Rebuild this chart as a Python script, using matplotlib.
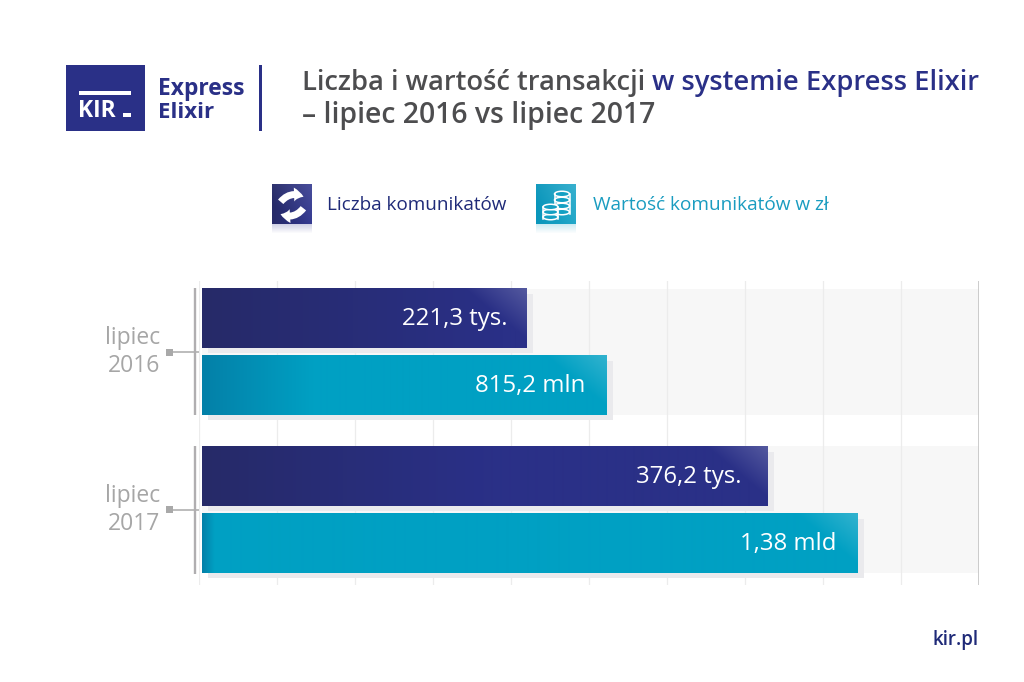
import numpy as np
import matplotlib
matplotlib.use('Agg')
import matplotlib.pyplot as plt
from matplotlib.colors import to_rgb
from matplotlib.patches import Rectangle, Ellipse, FancyArrowPatch

# chart values, read in grid divisions (the picture has no numeric axis)
years = ['lipiec\n2016', 'lipiec\n2017']
count_lengths = [4.205, 7.295]
value_lengths = [5.23, 8.45]
count_labels = ['221,3 tys.', '376,2 tys.']
value_labels = ['815,2 mln', '1,38 mld']
grid_ticks = [0, 1, 2, 3, 4, 5, 6, 7, 8, 9, 10]

NAVY = '#2a3087'
NAVY_DARK = '#262a68'
TEAL = '#00a0c3'
TEAL_DARK = '#0480a8'
GREY_TEXT = '#a6a6a6'
TITLE_GREY = '#4d4d4f'

plt.rcParams['font.family'] = ['Open Sans', 'DejaVu Sans']

fig = plt.figure(figsize=(10.24, 6.82), dpi=100)


def box(x0, y0, x1, y1):
    # figure fraction rectangle from pixel corners (y from the top)
    return [x0 / 1024, 1 - y1 / 682, (x1 - x0) / 1024, (y1 - y0) / 682]


ax = fig.add_axes(box(199, 281, 979, 585))
ax.set_xlim(0, 10)
ax.set_ylim(1.479, -0.451)
ax.set_facecolor('none')
for s in ax.spines.values():
    s.set_visible(False)

bar_h = 0.375
off = 0.213
base = 0.04
y = np.arange(len(years))


def gradient(left, right, w, h, fade, corner=0.2):
    # w, h in pixels, fade = how far the dark left part reaches
    xx, yy = np.meshgrid(np.arange(w), np.arange(h))
    t = np.clip(xx / fade, 0, 1)[..., None]
    img = np.array(to_rgb(left)) * (1 - t) + np.array(to_rgb(right)) * t
    d = (w - xx) + yy * 1.2
    a = np.clip(1 - d / 62, 0, 1)[..., None] * corner
    return img * (1 - a) + a


# grey bands behind each group
ax.barh(y, [10 - base] * 2, left=base, height=0.805, color='#f7f7f7', zorder=1)
ax.set_xticks(grid_ticks)
ax.set_xticklabels([])
ax.tick_params(axis='x', length=0)
ax.grid(axis='x', color='#ececec', lw=0.9, zorder=2)
ax.set_axisbelow(False)
ax.get_xgridlines()[-1].set_color('#c8c8c8')
ax.get_xgridlines()[-1].set_linewidth(1.3)

for vals, ypos, left_c, right_c, fades in [
    (count_lengths, y - off, NAVY_DARK, NAVY, [300, 280]),
    (value_lengths, y + off, TEAL_DARK, TEAL, [110, 12]),
]:
    widths = [v - base for v in vals]
    # soft shadow, offset right and down
    ax.barh(ypos + 0.032, widths, left=base + 0.075, height=bar_h, color='#eaeaed', zorder=3)
    bars = ax.barh(ypos, widths, left=base, height=bar_h, color=right_c, zorder=4)
    for b, fade in zip(bars, fades):
        x0, x1 = b.get_x(), b.get_x() + b.get_width()
        y0, y1 = b.get_y(), b.get_y() + b.get_height()
        img = gradient(left_c, right_c, int((x1 - x0) * 78), 60, fade)
        ax.imshow(img, extent=(x0, x1, y1, y0), aspect='auto', zorder=5, interpolation='bilinear')

label_pad = [-19, -27, -22, -22]
all_labels = count_labels + value_labels
all_x = count_lengths + value_lengths
all_y = list(y - off) + list(y + off)
for txt, vx, vy, pad in zip(all_labels, all_x, all_y, label_pad):
    ax.annotate(txt, (vx, vy), xytext=(pad * 0.72, -0.5), textcoords='offset points', ha='right',
                va='center', color='white', fontsize=17.3, zorder=6)

ax.set_xlim(0, 10)
ax.set_ylim(1.479, -0.451)
ax.set_yticks(y)
ax.set_yticklabels(years, color=GREY_TEXT, fontsize=16.5, linespacing=1.22, ha='right', va='center')
ax.tick_params(axis='y', length=19, width=1.1, color='#a9a9a9', pad=9)

# everything around the chart, in pixel coordinates
over = fig.add_axes([0, 0, 1, 1], zorder=10)
over.set_xlim(0, 1024)
over.set_ylim(682, 0)
over.axis('off')

# group brackets and tick squares
for y0, y1, ym in [(288, 415, 352), (446, 574, 509.5)]:
    over.plot([195, 195], [y0, y1], color='#b0aeb0', lw=1.7, solid_capstyle='butt')
    over.add_patch(Rectangle((165.5, ym - 3.5), 7, 7, color='#a9a9a9', lw=0))

# logo
over.add_patch(Rectangle((66, 65), 79, 66, color=NAVY, lw=0))
over.add_patch(Rectangle((79, 91), 52, 4, color='white', lw=0))
over.add_patch(Rectangle((123, 113), 8, 4, color='white', lw=0))
over.text(78, 117, 'KIR', color='white', fontsize=16.5, fontweight='bold', va='baseline')
over.text(158, 95, 'Express', color=NAVY, fontsize=16.5, fontweight='bold', va='baseline')
over.text(158, 118, 'Elixir', color=NAVY, fontsize=16, fontweight='bold', va='baseline')
over.add_patch(Rectangle((259, 65), 3, 66, color=NAVY, lw=0))

# title, two colours on one line
t1 = over.text(302, 90, 'Liczba i wartość transakcji ', color=TITLE_GREY, fontsize=19.7,
               fontweight='semibold', va='baseline')
over.annotate('w systemie Express Elixir', xy=(1, 0), xycoords=t1, va='bottom', color=NAVY,
              fontsize=19.7, fontweight='semibold')
over.text(302, 123, '– lipiec 2016 vs lipiec 2017', color=TITLE_GREY, fontsize=20.4,
          fontweight='semibold', va='baseline')


# legend icons
def icon(x0, left_c, right_c):
    img = gradient(left_c, right_c, 40, 40, 40, corner=0.12)
    over.imshow(img, extent=(x0, x0 + 40, 224, 184), aspect='auto', zorder=2)
    fade = np.ones((10, 40, 4))
    fade[..., :3] = to_rgb(right_c)
    fade[..., 3] = np.linspace(0.22, 0, 10)[:, None]
    over.imshow(fade, extent=(x0, x0 + 40, 234, 224), aspect='auto', zorder=2)


icon(272, NAVY_DARK, '#30368f')
icon(536, '#0a96bb', '#1ea6c8')
over.set_xlim(0, 1024)
over.set_ylim(682, 0)

for a, b, rad in [((279, 204), (306, 198), -0.45), ((305, 206), (278, 213), -0.45)]:
    over.add_patch(FancyArrowPatch(a, b, connectionstyle=f'arc3,rad={rad}',
                                   arrowstyle='simple,head_width=10,head_length=7,tail_width=5',
                                   color='white', lw=0, zorder=3))

for cx, tops in [(562, [191, 197, 203, 209]), (550.5, [204, 209, 214])]:
    for ty in reversed(tops):
        over.add_patch(Ellipse((cx, ty + 3), 15, 5.5, fc='#14a0c3', ec='white', lw=1.1, zorder=3))
    over.plot([cx - 7.5, cx - 7.5], [tops[0] + 3, tops[-1] + 5], color='white', lw=1.1, zorder=3)
    over.plot([cx + 7.5, cx + 7.5], [tops[0] + 3, tops[-1] + 5], color='white', lw=1.1, zorder=3)

over.text(327, 205, 'Liczba komunikatów', color='#1f2a78', fontsize=13.6, fontweight='medium', va='center')
over.text(593, 205, 'Wartość komunikatów w zł', color='#1a9cc0', fontsize=13.7, fontweight='medium', va='center')
over.text(979, 640, 'kir.pl', color='#1f2a78', fontsize=13.5, fontweight='semibold', ha='right', va='center')

fig.savefig('out.png', dpi=100)
